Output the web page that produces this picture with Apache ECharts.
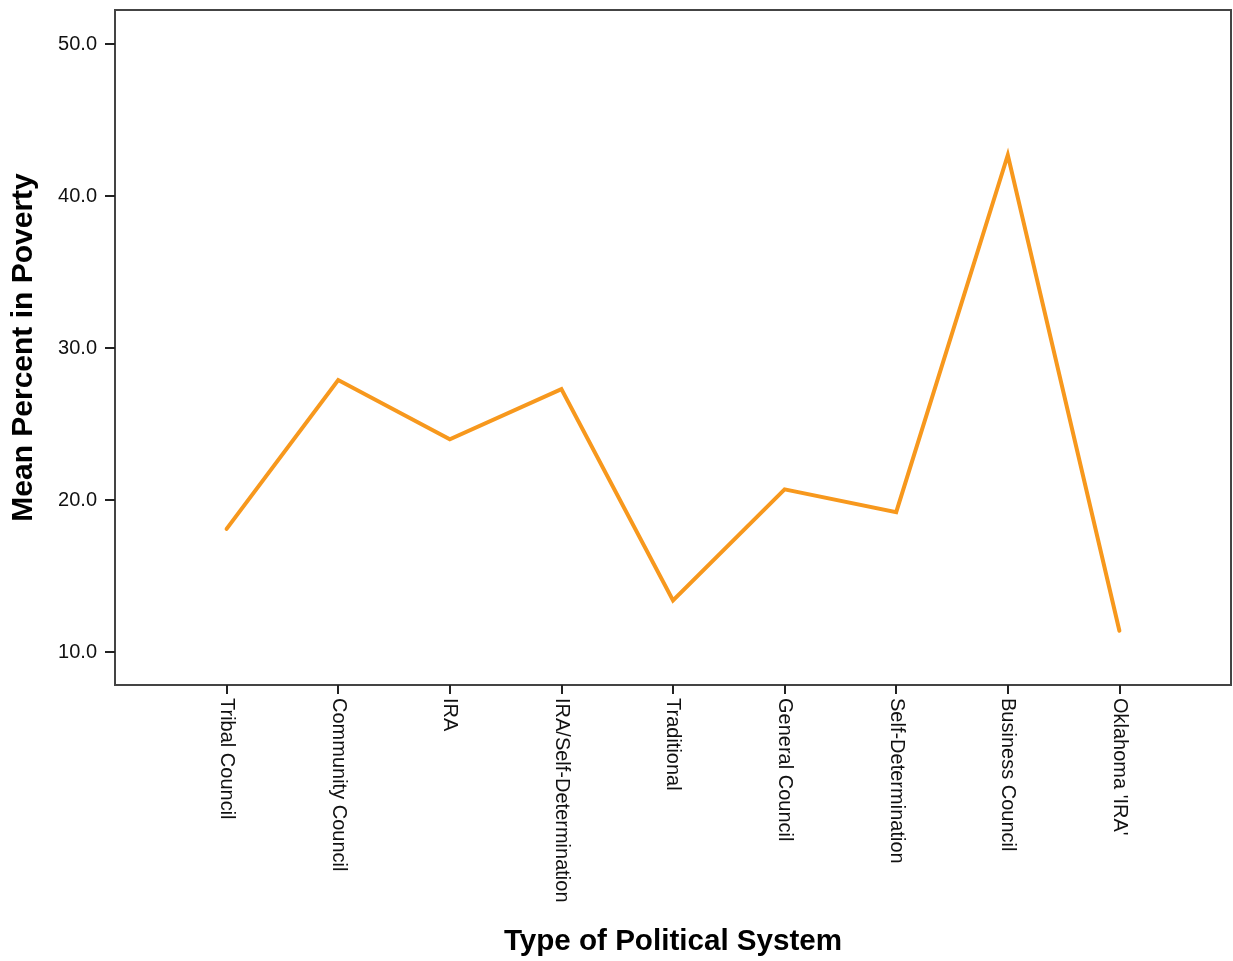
<!DOCTYPE html>
<html>
<head>
<meta charset="utf-8">
<script src="https://cdn.jsdelivr.net/npm/echarts@6/dist/echarts.min.js"></script>
<style>html,body{margin:0;padding:0;background:#fff;}#c{width:1233px;height:961px;}</style>
</head>
<body>
<div id="c"></div>
<script>
var categories = ["Tribal Council", "Community Council", "IRA", "IRA/Self-Determination", "Traditional", "General Council", "Self-Determination", "Business Council", "Oklahoma 'IRA'"];
var meanPoverty = [18.1, 27.9, 24.0, 27.3, 13.4, 20.7, 19.2, 42.7, 11.4];
var yTicks = [10, 20, 30, 40, 50];

var positions = categories.map(function (c, i) { return i + 1; });
var seriesData = categories.map(function (c, i) { return [i + 1, meanPoverty[i]]; });

var chart = echarts.init(document.getElementById('c'));
var font = 'Liberation Sans, Arial, sans-serif';
chart.setOption({
  animation: false,
  grid: { left: 115, right: 2, top: 10, bottom: 276, outerBoundsMode: 'none', containLabel: false, show: true, borderColor: '#444', borderWidth: 2, backgroundColor: '#fff' },
  xAxis: {
    type: 'value', min: 0, max: categories.length + 1,
    name: 'Type of Political System', nameLocation: 'middle', nameGap: 242,
    nameTextStyle: { fontFamily: font, fontSize: 29.6, fontWeight: 'bold', color: '#000' },
    axisLine: { show: true, lineStyle: { color: '#444', width: 2 } },
    axisTick: { show: true, length: 9, customValues: positions, lineStyle: { color: '#222', width: 2 } },
    axisLabel: {
      customValues: positions, rotate: -90, margin: 13,
      fontFamily: font, fontSize: 20, color: '#111',
      formatter: function (v) { return categories[Math.round(v) - 1] || ''; }
    },
    splitLine: { show: false }
  },
  yAxis: {
    type: 'value', min: 7.83, max: 52.24,
    name: 'Mean Percent in Poverty', nameLocation: 'middle', nameGap: 76,
    nameTextStyle: { fontFamily: font, fontSize: 30, fontWeight: 'bold', color: '#000' },
    axisLine: { show: true, lineStyle: { color: '#444', width: 2 } },
    axisTick: { show: true, length: 10, customValues: yTicks, lineStyle: { color: '#222', width: 2 } },
    axisLabel: {
      customValues: yTicks, margin: 18,
      fontFamily: font, fontSize: 20, color: '#111',
      formatter: function (v) { return v.toFixed(1); }
    },
    splitLine: { show: false }
  },
  series: [{
    type: 'line', data: seriesData, symbol: 'none',
    lineStyle: { color: '#F7981D', width: 4, cap: 'round', join: 'miter' }
  }]
});
</script>
</body>
</html>
